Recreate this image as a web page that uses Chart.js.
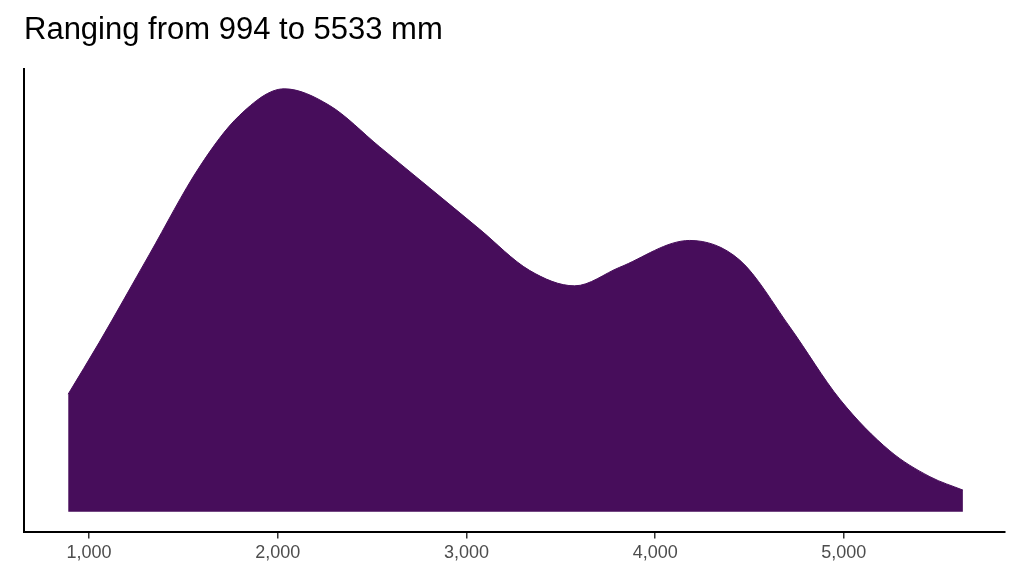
<!DOCTYPE html>
<html><head><meta charset="utf-8">
<script src="https://cdn.jsdelivr.net/npm/chart.js@4"></script>
<style>html,body{margin:0;padding:0;background:#fff}#w{width:1024px;height:576px}</style>
</head><body><div id="w"><canvas id="c"></canvas></div>
<script>
const lengths = [889,1053,1318,1584,1796,2034,2273,2538,2804,3069,3334,3573,3812,4183,4448,4714,4979,5244,5456,5631];
const density = [114,164,249,334,384,410,394,354,314,274,234,219,237,263,244,179,109,59,34,21];
const xTicks = [1000,2000,3000,4000,5000];
const titleText = "Ranging from 994 to 5533 mm";

new Chart(document.getElementById('c'), {
  type: 'line',
  data: { datasets: [{
    data: lengths.map((x,i)=>({x, y: density[i]})),
    fill: 'origin', backgroundColor: '#470D5B', borderColor: '#470D5B',
    borderWidth: 1, pointRadius: 0, tension: 0.4, cubicInterpolationMode: 'monotone'
  }]},
  options: {
    responsive: true, maintainAspectRatio: false, animation: false,
    layout: { padding: { left: 24, right: 19, top: 0, bottom: 8 } },
    plugins: { legend: { display: false }, tooltip: { enabled: false },
      title: { display: true, text: titleText, align: 'start', color: '#000',
        font: { family: 'Liberation Sans, Arial', size: 31, weight: 'normal' },
        padding: { top: 12, bottom: 20 } } },
    scales: {
      x: { type: 'linear', min: 655, max: 5854,
        afterBuildTicks: s => { s.ticks = xTicks.map(v=>({value:v})); },
        ticks: { color: '#4d4d4d', font: { family: 'Liberation Sans, Arial', size: 18 }, padding: 4 },
        grid: { drawOnChartArea: false, drawTicks: true, tickLength: 6, color: '#333', lineWidth: 1.5 },
        border: { color: '#000', width: 2 } },
      y: { min: -20, max: 429,
        ticks: { display: false },
        grid: { drawOnChartArea: false, drawTicks: false },
        border: { color: '#000', width: 2 },
        afterFit: s => { s.width = 0; } }
    }
  }
});
</script></body></html>
